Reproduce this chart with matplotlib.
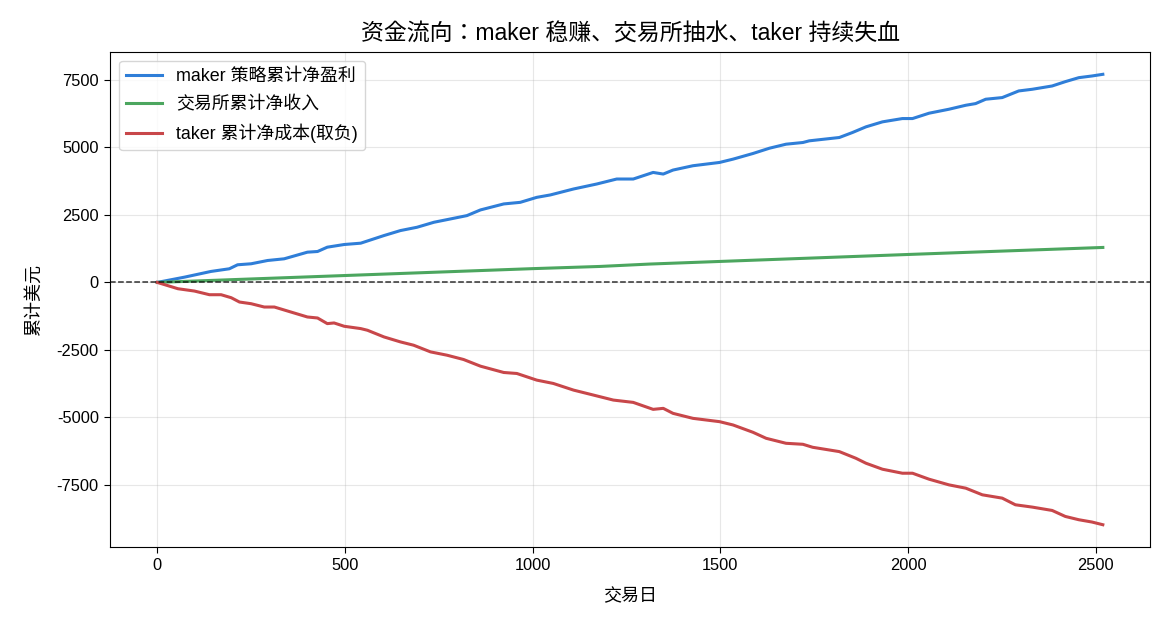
import matplotlib
matplotlib.use("Agg")
import matplotlib.pyplot as plt

plt.rcParams["font.family"] = ["Liberation Sans", "Noto Sans CJK SC", "DejaVu Sans"]
plt.rcParams["axes.unicode_minus"] = False

# values
maker_days = [0, 73, 143, 192, 214, 250, 294, 338, 400, 427, 453, 498, 542, 604,
              648, 692, 737, 781, 825, 861, 923, 967, 1011, 1047, 1109, 1171,
              1224, 1268, 1321, 1348, 1374, 1427, 1498, 1534, 1587, 1631, 1675,
              1720, 1737, 1817, 1852, 1888, 1932, 1985, 2012, 2056, 2109, 2154,
              2180, 2207, 2251, 2295, 2331, 2384, 2419, 2455, 2490, 2519]
maker_vals = [0, 196, 406, 505, 653, 690, 812, 874, 1120, 1145, 1305, 1404, 1453,
              1736, 1921, 2043, 2228, 2351, 2475, 2685, 2907, 2966, 3151, 3240,
              3461, 3646, 3830, 3830, 4074, 4014, 4162, 4322, 4444, 4567, 4776,
              4972, 5120, 5183, 5245, 5368, 5553, 5763, 5948, 6070, 6070, 6268,
              6415, 6563, 6624, 6786, 6847, 7093, 7155, 7277, 7437, 7585, 7647,
              7709]

exch_days = [0, 500, 1000, 1179, 1312, 1498, 1999, 2519]
exch_vals = [0, 255, 510, 591, 680, 776, 1034, 1295]

taker_days = [0, 55, 99, 139, 170, 197, 219, 250, 285, 312, 356, 400, 427, 453,
              471, 498, 542, 560, 604, 648, 683, 728, 772, 816, 861, 923, 958,
              1011, 1055, 1109, 1162, 1215, 1268, 1321, 1348, 1374, 1427, 1498,
              1534, 1587, 1622, 1675, 1720, 1746, 1817, 1861, 1888, 1932, 1985,
              2012, 2056, 2109, 2154, 2198, 2251, 2286, 2331, 2384, 2419, 2455,
              2490, 2519]
taker_vals = [0, -234, -320, -456, -456, -567, -727, -789, -912, -912, -1097,
              -1281, -1318, -1527, -1502, -1625, -1711, -1773, -2020, -2205,
              -2327, -2574, -2697, -2856, -3103, -3337, -3374, -3620, -3743,
              -3990, -4174, -4359, -4445, -4703, -4666, -4851, -5036, -5159,
              -5282, -5553, -5775, -5960, -5997, -6108, -6268, -6514, -6699,
              -6921, -7069, -7069, -7290, -7500, -7623, -7869, -7992, -8238,
              -8324, -8448, -8670, -8792, -8877, -8977]


def main():
    fig, ax = plt.subplots(figsize=(11.7, 6.24), dpi=100)
    fig.subplots_adjust(left=0.094, right=0.983, top=0.917, bottom=0.123)

    ax.plot(maker_days, maker_vals, color="#2f7ed8", lw=2.2, label="maker 策略累计净盈利")
    ax.plot(exch_days, exch_vals, color="#4ca65f", lw=2.2, label="交易所累计净收入")
    ax.plot(taker_days, taker_vals, color="#c8474a", lw=2.2, label="taker 累计净成本(取负)")
    ax.axhline(0, color="black", lw=1.1, ls="--", alpha=0.8)

    # JP variant: centred full-width colon, low 、 -- as in the reference
    ax.set_title("资金流向：maker 稳赚、交易所抽水、taker 持续失血", fontsize=16.5,
                 family=["Liberation Sans", "Noto Sans CJK JP"], pad=8)
    ax.set_xlabel("交易日", fontsize=13, labelpad=11)
    ax.set_ylabel("累计美元", fontsize=13, labelpad=10)
    ax.tick_params(labelsize=11.8, length=4.5)
    ax.legend(loc="upper left", fontsize=12.9, labelspacing=0.6)
    ax.grid(alpha=0.3)

    fig.savefig("out.png", dpi=100)
    plt.close(fig)


if __name__ == "__main__":
    main()
